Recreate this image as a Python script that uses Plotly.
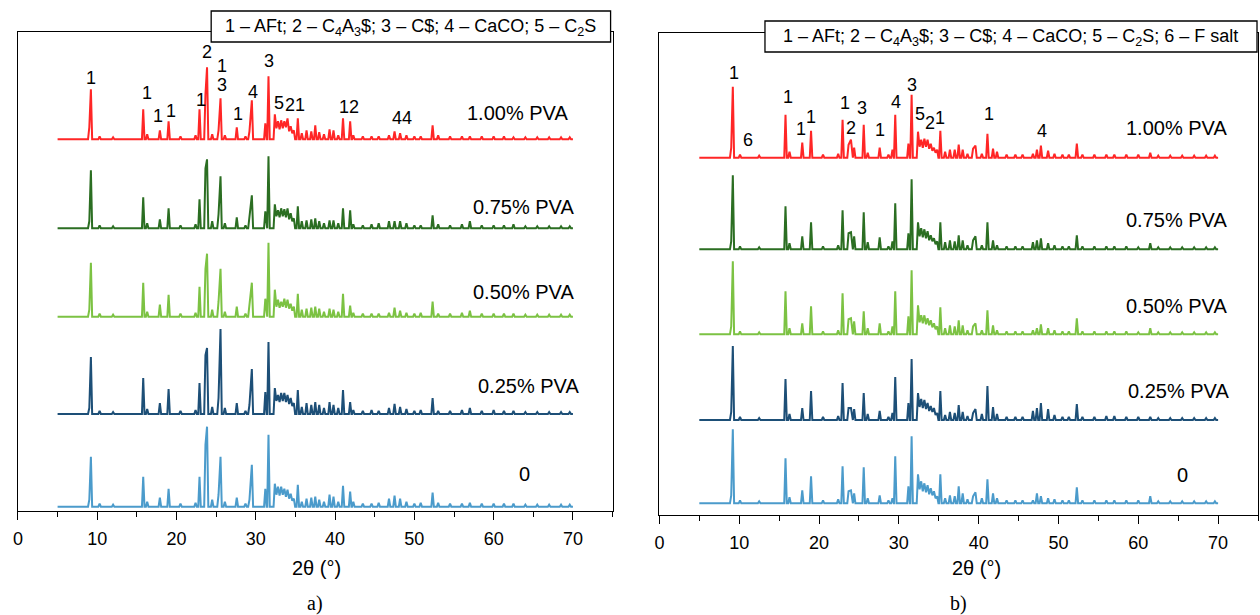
import plotly.graph_objects as go

FIG_W, FIG_H = 1260, 615

# ---------------------------------------------------------------- data
SAMPLES = ["1.00% PVA", "0.75% PVA", "0.50% PVA", "0.25% PVA", "0"]
COLORS = ["#FF2626", "#2B6E22", "#7CC243", "#1D4F77", "#4B9BCB"]

SCAN_START, SCAN_END = 5.0, 70.0

# panel a) reflections (2θ, deg) and intensities per sample (a.u.)
PEAKS_A = [9.0, 9.2, 10.3, 12.0, 15.8, 16.3, 17.9, 19.0, 20.5, 22.4,
           22.9, 23.65, 23.85, 24.5, 25.3, 25.55, 26.1, 27.6, 28.7, 29.2,
           29.5, 31.2, 31.6,
           32.4, 32.6, 32.8, 33.0, 33.2, 33.4, 33.6, 33.8, 34.0, 34.2, 34.4, 34.6, 34.8,
           35.3, 35.8, 36.4, 37.0, 37.5, 38.0, 38.6, 39.3, 39.8, 40.4,
           41.0, 41.9, 42.3, 43.5, 44.6, 45.5, 46.8, 47.5, 48.2, 49.0,
           50.0, 50.8, 52.3, 53.0, 54.5, 56.0, 57.0, 58.5, 60.0, 61.3,
           62.5, 64.0, 65.5, 67.0, 68.5, 69.6]
I_A_100 = [12, 50, 3, 2, 30, 5, 9, 18, 3, 4,
           30, 45, 72, 5, 9, 41, 4, 12, 3, 8,
           39, 16, 63,
           25, 11, 18, 10, 19, 11, 18, 12, 21, 8, 13, 6, 9,
           21, 6, 9, 8, 14, 7, 5, 10, 9, 4,
           21, 18, 4, 3, 3, 3, 4, 8, 6, 4,
           3, 3, 14, 4, 3, 3, 3, 3, 3, 3,
           2, 2, 2, 2, 2, 2]
I_A_075 = [7, 58, 3, 2, 31, 5, 9, 20, 3, 4,
           29, 60, 69, 7, 14, 52, 5, 11, 3, 10,
           33, 17, 72,
           24, 12, 18, 11, 20, 12, 19, 11, 20, 9, 15, 7, 10,
           22, 7, 8, 9, 10, 7, 5, 8, 8, 5,
           20, 18, 4, 3, 4, 5, 7, 7, 7, 5,
           3, 3, 13, 4, 3, 4, 7, 3, 3, 3,
           4, 2, 2, 2, 2, 2]
I_A_050 = [7, 54, 3, 2, 34, 5, 12, 22, 3, 4,
           30, 48, 63, 7, 15, 48, 5, 10, 3, 10,
           34, 18, 74,
           27, 10, 17, 9, 15, 10, 18, 9, 17, 8, 13, 6, 10,
           23, 7, 8, 9, 10, 8, 5, 8, 7, 5,
           23, 11, 4, 3, 3, 3, 4, 9, 6, 4,
           3, 4, 15, 3, 3, 4, 6, 3, 3, 3,
           3, 2, 2, 2, 2, 2]
I_A_025 = [6, 57, 3, 2, 36, 5, 11, 25, 3, 4,
           31, 59, 66, 7, 16, 85, 6, 11, 3, 9,
           45, 22, 72,
           26, 13, 19, 12, 21, 13, 21, 12, 19, 10, 16, 8, 11,
           24, 7, 11, 9, 12, 9, 6, 12, 9, 6,
           24, 12, 4, 3, 4, 3, 6, 10, 7, 5,
           3, 4, 16, 3, 3, 4, 6, 3, 4, 3,
           3, 2, 2, 2, 2, 2]
I_A_000 = [7, 50, 3, 2, 30, 5, 9, 18, 3, 4,
           30, 62, 80, 7, 12, 50, 5, 9, 3, 7,
           42, 18, 72,
           23, 12, 20, 11, 20, 12, 18, 10, 17, 8, 13, 6, 8,
           22, 5, 8, 9, 10, 7, 5, 12, 10, 5,
           21, 15, 5, 3, 3, 4, 8, 11, 8, 5,
           3, 4, 14, 4, 3, 3, 4, 3, 3, 3,
           3, 2, 2, 2, 2, 2]

# panel b) reflections (2θ, deg) and intensities per sample (a.u.)
PEAKS_B = [9.0, 9.2, 10.1, 12.5, 15.8, 16.3, 17.9, 19.0, 20.5, 22.4,
           22.95, 23.7, 24.0, 24.4, 25.6, 26.1, 27.6, 28.7, 29.2, 29.55,
           31.2, 31.6,
           32.4, 32.6, 32.8, 33.0, 33.2, 33.4, 33.6, 33.8, 34.0, 34.2, 34.4, 34.6, 34.8,
           35.2, 35.8, 36.4, 37.0, 37.5, 38.0, 38.6, 39.3, 39.6, 40.4, 41.1,
           41.8, 42.3, 43.5, 44.6, 45.5, 46.8, 47.3, 47.8, 48.7, 49.5,
           50.5, 51.3, 52.3, 53.0, 54.5, 56.0, 57.0, 58.5, 60.0, 61.5,
           62.5, 64.0, 65.5, 67.0, 68.5, 69.6]
I_B_100 = [10, 71, 3, 2, 43, 6, 15, 27, 3, 4,
           38, 13, 18, 10, 33, 5, 10, 3, 8, 43,
           14, 63,
           26, 11, 18, 10, 19, 11, 18, 9, 14, 7, 10, 5, 8,
           27, 6, 8, 8, 13, 8, 4, 9, 12, 4, 24,
           9, 6, 3, 3, 3, 4, 8, 12, 7, 4,
           3, 3, 14, 3, 3, 3, 3, 3, 3, 5,
           2, 2, 2, 2, 2, 2]
I_B_075 = [8, 74, 3, 2, 43, 6, 13, 27, 3, 4,
           39, 16, 17, 13, 37, 7, 12, 3, 8, 46,
           16, 70,
           27, 13, 21, 12, 20, 11, 18, 9, 14, 8, 11, 5, 8,
           27, 7, 9, 8, 14, 9, 4, 9, 13, 4, 27,
           9, 4, 3, 3, 3, 7, 9, 11, 6, 4,
           3, 3, 14, 3, 3, 3, 3, 3, 2, 6,
           2, 2, 2, 2, 2, 2]
I_B_050 = [8, 73, 3, 2, 43, 6, 11, 28, 3, 4,
           41, 15, 16, 13, 23, 6, 11, 3, 8, 43,
           18, 64,
           29, 12, 19, 11, 19, 10, 16, 9, 14, 7, 11, 5, 8,
           27, 6, 9, 8, 14, 9, 4, 8, 11, 4, 24,
           9, 4, 3, 3, 3, 4, 6, 10, 6, 4,
           3, 3, 16, 3, 3, 3, 3, 3, 2, 6,
           2, 2, 2, 2, 2, 2]
I_B_025 = [8, 74, 3, 2, 41, 6, 12, 29, 3, 4,
           37, 12, 12, 11, 27, 6, 9, 3, 7, 43,
           17, 61,
           27, 13, 21, 12, 20, 11, 17, 9, 14, 8, 12, 5, 7,
           29, 5, 8, 7, 15, 8, 4, 7, 11, 6, 34,
           13, 6, 3, 3, 3, 9, 12, 17, 11, 5,
           3, 3, 16, 3, 3, 4, 4, 3, 3, 3,
           2, 2, 2, 2, 2, 2]
I_B_000 = [8, 74, 3, 2, 45, 6, 13, 27, 3, 4,
           37, 12, 13, 10, 36, 5, 8, 3, 5, 47,
           17, 67,
           29, 14, 22, 12, 20, 11, 18, 9, 15, 8, 12, 5, 7,
           29, 5, 8, 7, 17, 10, 4, 7, 11, 5, 24,
           10, 5, 3, 3, 3, 3, 10, 7, 5, 4,
           3, 3, 16, 3, 3, 3, 3, 3, 3, 7,
           2, 2, 2, 2, 2, 2]

# phase markers above reflections: (text, 2θ)
MARKS_A = [("1", 9.26), ("1", 16.24), ("1", 17.7), ("1", 19.3), ("1", 23.15),
           ("2", 23.9), ("1", 25.8), ("3", 25.8), ("1", 27.76), ("4", 29.7),
           ("3", 31.66), ("5", 32.9), ("2", 34.3), ("1", 35.55), ("12", 41.8),
           ("44", 48.4)]
MARKS_B = [("1", 9.4), ("6", 11.05), ("1", 16.1), ("1", 17.8), ("1", 18.96),
           ("1", 23.2), ("2", 24.05), ("3", 25.4), ("1", 27.7), ("4", 29.7),
           ("3", 31.6), ("5", 32.7), ("2", 33.9), ("1", 35.2), ("1", 41.25),
           ("4", 47.9)]

LEGEND_A = "1 – AFt; 2 – C<sub>4</sub>A<sub>3</sub>$; 3 – C$; 4 – CaCO; 5 – C<sub>2</sub>S"
LEGEND_B = ("1 – AFt; 2 – C<sub>4</sub>A<sub>3</sub>$; 3 – C$; 4 – CaCO; "
            "5 – C<sub>2</sub>S; 6 – F salt")
X_TICKS = [0, 10, 20, 30, 40, 50, 60, 70]

# ---------------------------------------------------------------- layout (px)
PANEL_A = dict(left=13, right=610, top=32, bottom=511)
PANEL_B = dict(left=657, right=1258, top=33, bottom=515)
BASE_A = [139.3, 228.3, 316.7, 414.0, 506.7]     # baseline row of each pattern
BASE_B = [157.7, 249.3, 334.3, 420.0, 503.3]
MARK_ROWS_A = [78, 93, 116, 111, 100, 52, 66, 85, 114, 92, 61, 103, 105, 105, 107, 118]
MARK_ROWS_B = [73, 140, 97, 129, 117, 103, 128, 108, 130, 102, 85, 114, 123, 118, 114, 131]
NAME_POS_A = [(515, 113), (521, 207), (521, 292), (526, 386), (522, 474)]
NAME_POS_B = [(1176, 128), (1176, 220), (1176, 306), (1178, 391), (1182, 475)]
LEGEND_BOX_A = (207, 11, 608, 42)
LEGEND_BOX_B = (763, 21, 1257, 52)
FONT = "Arial, Liberation Sans, sans-serif"
SERIF = "Times New Roman, Liberation Serif, serif"
HW = 0.16  # half width of a drawn reflection, deg


def px_x(x):
    return x / FIG_W


def px_y(y):
    return 1 - y / FIG_H


def spike_path(peaks, heights, base):
    xs, ys = [SCAN_START], [base]
    for p, h in zip(peaks, heights):
        if len(xs) > 1 and xs[-1] > p - HW:
            xs.pop()
            ys.pop()
        else:
            xs.append(p - HW)
            ys.append(base)
        xs.append(p)
        ys.append(base + h)
        xs.append(p + HW)
        ys.append(base)
    xs.append(SCAN_END)
    ys.append(base)
    return xs, ys


fig = go.Figure()

panels = [
    ("x", "y", PANEL_A, BASE_A, PEAKS_A, [I_A_100, I_A_075, I_A_050, I_A_025, I_A_000]),
    ("x2", "y2", PANEL_B, BASE_B, PEAKS_B, [I_B_100, I_B_075, I_B_050, I_B_025, I_B_000]),
]

for xa, ya, box, bases, peaks, series in panels:
    for name, color, base_row, inten in zip(SAMPLES, COLORS, bases, series):
        assert len(inten) == len(peaks)
        xs, ys = spike_path(peaks, inten, box["bottom"] - base_row)
        fig.add_trace(go.Scatter(x=xs, y=ys, mode="lines", name=name, xaxis=xa, yaxis=ya,
                                 line=dict(color=color, width=2.0), showlegend=False,
                                 hoverinfo="skip"))

annotations = []
shapes = []


def axis_style(box):
    return dict(
        domain=[px_x(box["left"]), px_x(box["right"])],
        range=[0, 75], showgrid=False, zeroline=False,
        showline=True, linecolor="black", linewidth=1.3, mirror=True,
        ticks="outside", ticklen=8, tickwidth=1.3, tickcolor="black",
        tickvals=X_TICKS, ticktext=[str(t) for t in X_TICKS],
        tickfont=dict(family=FONT, size=18, color="black"),
        ticklabelstandoff=3,
        minor=dict(tickvals=[5, 15, 25, 35, 45, 55, 65, 75], ticks="outside",
                   ticklen=5, tickwidth=1.3, tickcolor="black"),
    )


def yaxis_style(box):
    return dict(
        domain=[px_y(box["bottom"]), px_y(box["top"])],
        range=[0, box["bottom"] - box["top"]],
        showgrid=False, zeroline=False, showticklabels=False, ticks="",
        showline=True, linecolor="black", linewidth=1.3, mirror=True,
    )


fig.update_layout(xaxis=dict(axis_style(PANEL_A), anchor="y"),
                  yaxis=dict(yaxis_style(PANEL_A), anchor="x"))
fig.update_layout(xaxis2=dict(axis_style(PANEL_B), anchor="y2"),
                  yaxis2=dict(yaxis_style(PANEL_B), anchor="x2"))

for xa, ya, box, marks, rows in [("x", "y", PANEL_A, MARKS_A, MARK_ROWS_A),
                                 ("x2", "y2", PANEL_B, MARKS_B, MARK_ROWS_B)]:
    for (txt, tt), row in zip(marks, rows):
        annotations.append(dict(text=txt, x=tt, y=box["bottom"] - row, xref=xa, yref=ya,
                                showarrow=False, font=dict(family=FONT, size=18, color="black"),
                                xanchor="center", yanchor="middle"))

for positions in (NAME_POS_A, NAME_POS_B):
    for name, (px, py) in zip(SAMPLES, positions):
        annotations.append(dict(text=name, x=px_x(px), y=px_y(py), xref="paper", yref="paper",
                                showarrow=False, font=dict(family=FONT, size=20, color="black"),
                                xanchor="center", yanchor="middle"))

for (x0, y0, x1, y1), txt in [(LEGEND_BOX_A, LEGEND_A), (LEGEND_BOX_B, LEGEND_B)]:
    shapes.append(dict(type="rect", xref="paper", yref="paper", x0=px_x(x0), x1=px_x(x1),
                       y0=px_y(y1), y1=px_y(y0), line=dict(color="black", width=1.3),
                       fillcolor="white", layer="above"))
    annotations.append(dict(text=txt, x=px_x((x0 + x1) / 2), y=px_y((y0 + y1) / 2 + 1),
                            xref="paper", yref="paper", showarrow=False,
                            font=dict(family=FONT, size=18, color="black"),
                            xanchor="center", yanchor="middle"))

for box, cap, title_x, title_y, cap_y in [(PANEL_A, "a)", 313, 568, 603),
                                          (PANEL_B, "b)", 975, 568, 603)]:
    annotations.append(dict(text="2θ (°)", x=px_x(title_x), y=px_y(title_y), xref="paper",
                            yref="paper", showarrow=False,
                            font=dict(family=FONT, size=20, color="black"),
                            xanchor="center", yanchor="middle"))
    annotations.append(dict(text=cap, x=px_x((box["left"] + box["right"]) / 2), y=px_y(cap_y),
                            xref="paper", yref="paper", showarrow=False,
                            font=dict(family=SERIF, size=20, color="black"),
                            xanchor="center", yanchor="middle"))

fig.update_layout(width=FIG_W, height=FIG_H, margin=dict(l=0, r=0, t=0, b=0),
                  paper_bgcolor="white", plot_bgcolor="white",
                  annotations=annotations, shapes=shapes, showlegend=False)

fig.write_html("out.html")
